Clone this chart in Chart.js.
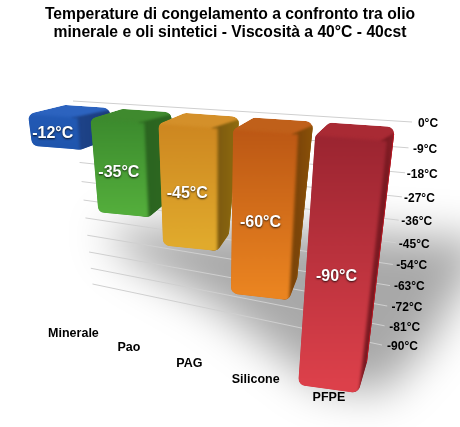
<!DOCTYPE html>
<html>
<head>
<meta charset="utf-8">
<style>
  html, body { margin: 0; padding: 0; background: #fff; }
  canvas { display: block; }
</style>
<script src="https://cdn.jsdelivr.net/npm/chart.js@4/dist/chart.umd.min.js"></script>
</head>
<body>
<canvas id="chart" width="460" height="427"></canvas>
<script>
const categories = ['Minerale', 'Pao', 'PAG', 'Silicone', 'PFPE'];
const freezePoints = [-12, -35, -45, -60, -90];
const valueLabels = ['-12°C', '-35°C', '-45°C', '-60°C', '-90°C'];
const tickValues = [0, -9, -18, -27, -36, -45, -54, -63, -72, -81, -90];
const tickLabels = ['0°C', '-9°C', '-18°C', '-27°C', '-36°C', '-45°C', '-54°C', '-63°C', '-72°C', '-81°C', '-90°C'];
const titleLines = ['Temperature di congelamento a confronto tra olio', 'minerale e oli sintetici - Viscosità a 40°C - 40cst'];

// face colours per bar: top, front (upper, lower), side (near, far)
const palette = [
  { top: '#2c63bf', front: ['#2259b4', '#1f55ad'], side: ['#1d4389', '#1c3c7c'], rim: '#1c3c7c' },
  { top: '#3f8a2e', front: ['#3b8a2d', '#53ad3b'], side: ['#2b6420', '#2d6821'], rim: '#2d6821' },
  { top: '#d4902a', front: ['#cd8620', '#e0aa2c'], side: ['#7d5a10', '#8f6c0f'], rim: '#8f6c0f' },
  { top: '#c0601a', front: ['#bb5714', '#ea8420'], side: ['#7c4509', '#8a5208'], rim: '#8a5208' },
  { top: '#a92a34', front: ['#9a2430', '#dc404a'], side: ['#7a1a22', '#8f1f28'], rim: '#c4141f' },
];

// the flat chart area is warped onto these planes (tl, tr, br, bl)
const gridPlane = [[73, 101], [412, 122], [382, 345], [92.5, 284]];
const frontPlane = [[28, 114], [387, 141], [358, 393], [59, 352]];
const backPlane = [[65, 105], [395, 127], [367, 362], [52, 340]];
const nameLine = [[52.6, 328.8], [360.3, 405.9]];

const warp = (t, c) => t * (1 + c) / (1 + c * t);
const mix = (a, b, t) => [a[0] + (b[0] - a[0]) * t, a[1] + (b[1] - a[1]) * t];

function onPlane(plane, s, v) {
  const top = mix(plane[0], plane[1], s);
  const bottom = mix(plane[3], plane[2], s);
  return mix(top, bottom, v);
}

function roundedPath(ctx, pts, r) {
  const n = pts.length;
  const start = mix(pts[n - 1], pts[0], 0.5);
  ctx.beginPath();
  ctx.moveTo(start[0], start[1]);
  pts.forEach((p, i) => {
    const next = pts[(i + 1) % n];
    ctx.arcTo(p[0], p[1], next[0], next[1], r);
  });
  ctx.closePath();
}

function fillQuad(ctx, pts, fill) {
  ctx.beginPath();
  pts.forEach((p, i) => (i ? ctx.lineTo(p[0], p[1]) : ctx.moveTo(p[0], p[1])));
  ctx.closePath();
  ctx.fillStyle = fill;
  ctx.fill();
}

const perspectivePlugin = {
  id: 'perspective',
  beforeDatasetDraw() {
    return false; // bars are drawn below, from the same elements
  },
  afterDatasetsDraw(chart) {
    const ctx = chart.ctx;
    const xs = chart.scales.x;
    const ys = chart.scales.y;
    const bars = chart.getDatasetMeta(0).data.map((b) => b.getProps(['x', 'y', 'base', 'width'], true));

    const firstLeft = bars[0].x - bars[0].width / 2;
    const lastRight = bars[bars.length - 1].x + bars[bars.length - 1].width / 2;
    const toS = (px) => warp((px - firstLeft) / (lastRight - firstLeft), -0.2);
    const toV = (py) => (py - ys.top) / (ys.bottom - ys.top);

    // soft shadow on the floor
    ctx.save();
    ctx.filter = 'blur(22px)';
    ctx.fillStyle = 'rgba(0,0,0,0.34)';
    ctx.beginPath();
    ctx.moveTo(105, 228);
    ctx.lineTo(230, 225);
    ctx.lineTo(490, 240);
    ctx.lineTo(428, 345);
    ctx.lineTo(385, 392);
    ctx.lineTo(320, 385);
    ctx.lineTo(215, 305);
    ctx.lineTo(125, 255);
    ctx.closePath();
    ctx.fill();
    ctx.restore();

    // grid lines and y tick labels
    ctx.font = 'bold 12px "Liberation Sans", Arial, sans-serif';
    ctx.textAlign = 'center';
    ctx.textBaseline = 'middle';
    ys.ticks.forEach((tick) => {
      const v = warp(toV(ys.getPixelForValue(tick.value)), 0.18);
      const a = onPlane(gridPlane, 0, v);
      const b = onPlane(gridPlane, 1, v);
      ctx.strokeStyle = '#cfcfcf';
      ctx.lineWidth = 1;
      ctx.beginPath();
      ctx.moveTo(a[0], a[1]);
      ctx.lineTo(b[0], b[1]);
      ctx.stroke();
      ctx.fillStyle = '#000';
      ctx.fillText(tick.label, b[0] + 16 + 4.5 * v, b[1] + 1.5);
    });

    // category names
    categories.forEach((name, i) => {
      const p = mix(nameLine[0], nameLine[1], toS(xs.getPixelForTick(i)));
      ctx.fillStyle = '#000';
      ctx.font = 'bold 12.5px "Liberation Sans", Arial, sans-serif';
      ctx.fillText(name, p[0], p[1]);
    });

    // bars, left to right so nearer ones overlap
    bars.forEach((bar, i) => {
      const c = palette[i];
      const sL = toS(bar.x - bar.width / 2);
      const sR = toS(bar.x + bar.width / 2);
      const v0 = toV(bar.base);
      const v1 = toV(bar.y);
      const ftl = onPlane(frontPlane, sL, v0);
      const ftr = onPlane(frontPlane, sR, v0);
      const fbr = onPlane(frontPlane, sR, v1);
      const fbl = onPlane(frontPlane, sL, v1);
      const btl = onPlane(backPlane, sL, v0);
      const btr = onPlane(backPlane, sR, v0);
      const bbr = onPlane(backPlane, sR, v1);

      ctx.save();
      roundedPath(ctx, [ftl, btl, btr, bbr, fbr, fbl], 7);
      ctx.clip();

      // top colour underneath everything, the other faces blur into it
      ctx.fillStyle = c.top;
      ctx.fill();

      ctx.filter = 'blur(1px)';
      const sideFill = ctx.createLinearGradient(ftr[0], 0, btr[0], 0);
      sideFill.addColorStop(0, c.side[0]);
      sideFill.addColorStop(1, c.side[1]);
      fillQuad(ctx, [[ftr[0] - 6, ftr[1]], [btr[0] + 8, btr[1]], [bbr[0] + 8, bbr[1] + 8], [fbr[0] - 6, fbr[1] + 8]], sideFill);

      ctx.filter = 'blur(1.5px)';
      const frontFill = ctx.createLinearGradient(0, ftl[1], 0, fbl[1]);
      frontFill.addColorStop(0, c.front[0]);
      frontFill.addColorStop(1, c.front[1]);
      fillQuad(ctx, [[ftl[0] - 8, ftl[1] - 0.6], ftr, [fbr[0], fbr[1] + 8], [fbl[0] - 8, fbl[1] + 8]], frontFill);
      ctx.filter = 'none';
      ctx.strokeStyle = c.rim;
      ctx.lineWidth = 1.5;
      ctx.beginPath();
      ctx.moveTo(btr[0], btr[1]);
      ctx.lineTo(bbr[0], bbr[1]);
      ctx.stroke();
      ctx.restore();

      // value label on the front face
      const mid = onPlane(frontPlane, (sL + sR) / 2, v1 * 0.55);
      ctx.save();
      ctx.font = 'bold 16px "Liberation Sans", Arial, sans-serif';
      ctx.textAlign = 'center';
      ctx.textBaseline = 'middle';
      ctx.shadowColor = 'rgba(0,0,0,0.8)';
      ctx.shadowBlur = 2;
      ctx.shadowOffsetY = 1;
      ctx.fillStyle = '#fff';
      ctx.fillText(valueLabels[i], mid[0] - 2, mid[1]);
      ctx.restore();
    });
  },
};

new Chart(document.getElementById('chart').getContext('2d'), {
  type: 'bar',
  data: {
    labels: categories,
    datasets: [{
      label: 'Temperatura di congelamento',
      data: freezePoints,
      barPercentage: 0.8,
      categoryPercentage: 1,
    }],
  },
  plugins: [perspectivePlugin],
  options: {
    responsive: false,
    animation: false,
    plugins: {
      legend: { display: false },
      tooltip: { enabled: false },
      title: {
        display: true,
        text: titleLines,
        color: '#000',
        font: { family: '"Liberation Sans", Arial, sans-serif', size: 15.7, weight: 'bold', lineHeight: 1.15 },
        padding: { top: 6, bottom: 10 },
      },
    },
    scales: {
      x: { display: false },
      y: {
        display: false,
        min: -90,
        max: 0,
        afterBuildTicks(scale) {
          scale.ticks = tickValues.map((value) => ({ value }));
        },
        ticks: {
          callback: (value) => tickLabels[tickValues.indexOf(value)],
        },
      },
    },
  },
});
</script>
</body>
</html>
